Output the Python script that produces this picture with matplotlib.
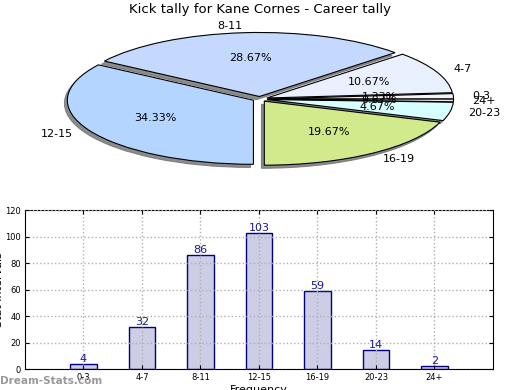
import matplotlib
matplotlib.use("Agg")
import matplotlib.pyplot as plt

# kick tally buckets and counts
categories = ["0-3", "4-7", "8-11", "12-15", "16-19", "20-23", "24+"]
counts = [4, 32, 86, 103, 59, 14, 2]
pie_colors = ["#f4f4f4", "#e9f1ff", "#c5d9ff", "#b4d5ff", "#d0ea8c", "#d8ffff", "#e8e8e8"]

fig = plt.figure(figsize=(5.2, 3.9), dpi=100)

# pie (stretched ellipse, old-style look)
ax1 = fig.add_axes([0.0705, 0.549, 0.859, 0.394])
wedges, texts, autotexts = ax1.pie(counts, labels=categories, colors=pie_colors,
                                   explode=[0.04] * len(counts), autopct="%.2f%%",
                                   shadow={"ox": -0.011, "oy": -0.035,
                                           "facecolor": "#707070", "edgecolor": "#707070",
                                           "alpha": 0.8},
                                   startangle=0, counterclock=True,
                                   wedgeprops=dict(edgecolor="black", linewidth=0.8),
                                   textprops=dict(fontsize=8), frame=False)
ax1.set_aspect("auto")
ax1.set_xlim(-1.2, 1.2)
ax1.set_ylim(-1.2, 1.2)
ax1.axis("off")
for t in texts + autotexts:
    t.set_clip_on(False)
fig.text(0.5, 0.975, "Kick tally for Kane Cornes - Career tally", ha="center", va="center", fontsize=9.5)

# bar chart
ax2 = fig.add_axes([0.048, 0.0538, 0.9, 0.4077])
x = list(range(len(categories)))
ax2.bar(x, counts, width=0.45, color="#cdcde6", edgecolor="#000080", linewidth=1)
for xi, c in zip(x, counts):
    ax2.text(xi, c, str(c), ha="center", va="bottom", fontsize=8, color="#1a1a8c")
ax2.set_xlim(-1, 7)
ax2.set_ylim(0, 120)
ax2.set_yticks(range(0, 121, 20))
ax2.set_xticks(x)
ax2.set_xticklabels(categories)
ax2.tick_params(direction="in", top=True, right=True, labelsize=6, length=3, pad=3)
ax2.set_axisbelow(False)
ax2.grid(True, linestyle=":", color="#b0b0b0", linewidth=1)
ax2.set_xlabel("Frequency", fontsize=8, labelpad=2)
ax2.set_ylabel("Stat Intervals", fontsize=8, labelpad=1)

fig.text(0.0, 0.024, "Dream-Stats.com", ha="left", va="center", fontsize=7.5,
         fontweight="bold", color="#999999")

fig.savefig("out.png", dpi=100)
